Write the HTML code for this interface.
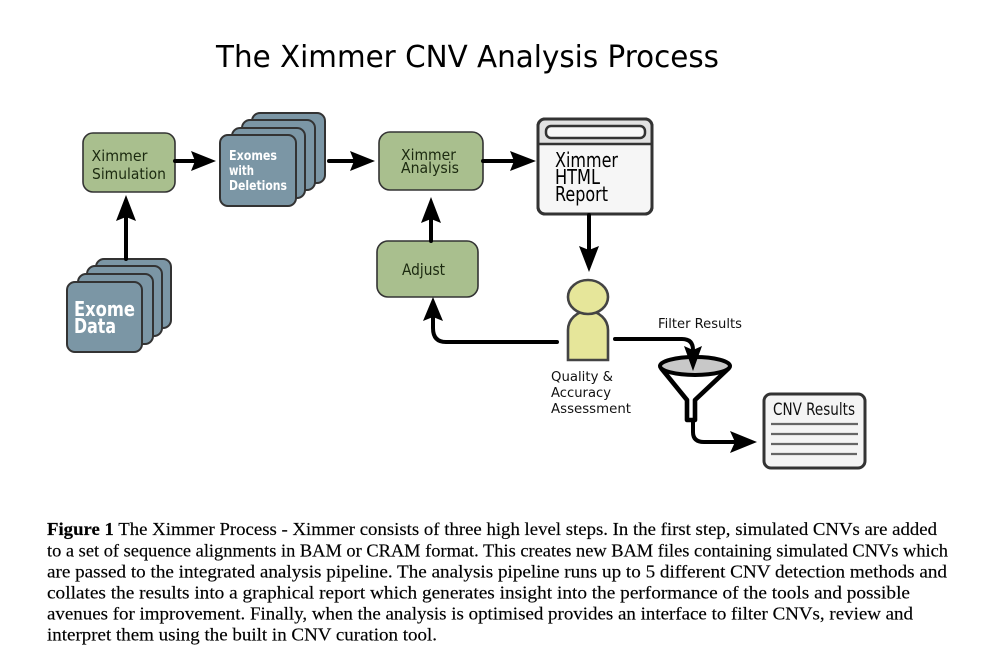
<!DOCTYPE html>
<html>
<head>
<meta charset="utf-8">
<title>The Ximmer CNV Analysis Process</title>
<style>
html,body{margin:0;padding:0;background:#fff;}
svg{display:block;}
.d{font-family:"DejaVu Sans",sans-serif;}
.c{font-family:"Liberation Serif",serif;font-size:17.5px;fill:#000;stroke:#000;stroke-width:.15px;}
</style>
</head>
<body>
<svg width="983" height="672" viewBox="0 0 983 672" xmlns="http://www.w3.org/2000/svg">
<rect width="983" height="672" fill="#fff"/>

<text class="d" x="216" y="67" font-size="30" fill="#000" textLength="503" lengthAdjust="spacingAndGlyphs">The Ximmer CNV Analysis Process</text>

<!-- Exomes stack -->
<g fill="#7b96a5" stroke="#333" stroke-width="2">
<rect x="252" y="113" width="73" height="70" rx="8"/>
<rect x="242" y="120" width="73" height="70" rx="8"/>
<rect x="232" y="128" width="73" height="70" rx="8"/>
<rect x="220" y="135" width="76" height="71" rx="8"/>
</g>
<!-- Exome Data stack -->
<g fill="#7b96a5" stroke="#333" stroke-width="2">
<rect x="96" y="259" width="75" height="69" rx="8"/>
<rect x="87" y="266" width="75" height="70" rx="8"/>
<rect x="78" y="274" width="75" height="70" rx="8"/>
<rect x="67" y="282" width="75" height="70" rx="8"/>
</g>

<!-- Green boxes -->
<g fill="#a9bf8e" stroke="#333" stroke-width="1.6">
<rect x="83" y="133" width="92" height="59" rx="10"/>
<rect x="379" y="132" width="104" height="58" rx="11"/>
<rect x="377" y="241" width="101" height="56" rx="11"/>
</g>

<!-- Report window -->
<rect x="538" y="119" width="114" height="95" rx="7" fill="#f6f6f6" stroke="#333" stroke-width="3"/>
<path d="M539 144V125a6 6 0 0 1 6-6H645a6 6 0 0 1 6 6V144Z" fill="#e2e2e2"/>
<rect x="538" y="119" width="114" height="95" rx="7" fill="none" stroke="#333" stroke-width="3"/>
<line x1="538" y1="144" x2="652" y2="144" stroke="#333" stroke-width="2.5"/>
<rect x="546" y="126" width="99" height="12" rx="5" fill="#f8f8f8" stroke="#333" stroke-width="2.5"/>

<!-- Person -->
<path d="M568 360V330a20 19 0 0 1 40 0V360Z" fill="#e6e69a" stroke="#444" stroke-width="2.6"/>
<ellipse cx="588" cy="297" rx="20" ry="17" fill="#e6e69a" stroke="#444" stroke-width="2.6"/>

<!-- Connectors -->
<g fill="none" stroke="#000" stroke-width="4" stroke-linecap="round">
<line x1="175" y1="161" x2="196" y2="161"/>
<line x1="126" y1="259" x2="126" y2="216"/>
<line x1="329" y1="161" x2="354" y2="161"/>
<line x1="483" y1="161" x2="514" y2="161"/>
<line x1="589" y1="215" x2="589" y2="250"/>
<line x1="431" y1="241" x2="431" y2="219"/>
<path d="M557 342H446Q433 342 433 328V317"/>
<path d="M615 339H682Q693 339 693 350V350"/>
<path d="M693 422V432Q693 442 704 442H734"/>
</g>
<g fill="#000">
<path d="M216 161L191 151L195 161L191 171Z"/>
<path d="M126 195L116 221L126 217L136 221Z"/>
<path d="M375 161L350 151L354 161L350 171Z"/>
<path d="M536 161L510 151L514 161L510 171Z"/>
<path d="M589 272L579 246L589 250L599 246Z"/>
<path d="M431 197L421 223L431 219L441 223Z"/>
<path d="M433 297L423 321L433 317L443 321Z"/>
<path d="M757 442L730 431L735 442L730 453Z"/>
</g>

<!-- Funnel -->
<path d="M661 368L687 400V420H695V400L729 368" fill="#fff" stroke="#000" stroke-width="4.6" stroke-linejoin="round"/>
<ellipse cx="695" cy="366" rx="35" ry="9" fill="#c8c8c8" stroke="#000" stroke-width="4"/>
<path d="M693 371L684 346L693 350L702 346Z" fill="#000"/>

<!-- CNV results -->
<rect x="764" y="394" width="101" height="74" rx="7" fill="#f4f4f4" stroke="#333" stroke-width="3"/>
<g stroke="#666" stroke-width="2.2">
<line x1="771" y1="424" x2="858" y2="424"/>
<line x1="771" y1="434" x2="858" y2="434"/>
<line x1="771" y1="444" x2="858" y2="444"/>
<line x1="771" y1="454" x2="857" y2="454"/>
</g>

<!-- Labels -->
<g class="d" fill="#1c2a10" font-size="15.5">
<text x="91.5" y="161" textLength="56" lengthAdjust="spacingAndGlyphs">Ximmer</text>
<text x="92" y="179" textLength="74" lengthAdjust="spacingAndGlyphs">Simulation</text>
<text x="401" y="160" textLength="55" lengthAdjust="spacingAndGlyphs">Ximmer</text>
<text x="401" y="173" textLength="58" lengthAdjust="spacingAndGlyphs">Analysis</text>
<text x="402" y="275" font-size="16" textLength="43" lengthAdjust="spacingAndGlyphs">Adjust</text>
</g>
<g class="d" fill="#fff" font-weight="bold" font-size="13.5">
<text x="229" y="160" textLength="48" lengthAdjust="spacingAndGlyphs">Exomes</text>
<text x="229" y="175" textLength="25" lengthAdjust="spacingAndGlyphs">with</text>
<text x="229" y="190" textLength="58" lengthAdjust="spacingAndGlyphs">Deletions</text>
</g>
<g class="d" fill="#fff" font-weight="bold" font-size="20">
<text x="74" y="316" textLength="61" lengthAdjust="spacingAndGlyphs">Exome</text>
<text x="74" y="333" textLength="42" lengthAdjust="spacingAndGlyphs">Data</text>
</g>
<g class="d" fill="#000" font-size="20">
<text x="555" y="167" textLength="63" lengthAdjust="spacingAndGlyphs">Ximmer</text>
<text x="555" y="184" textLength="45" lengthAdjust="spacingAndGlyphs">HTML</text>
<text x="555" y="201" textLength="53" lengthAdjust="spacingAndGlyphs">Report</text>
</g>
<g class="d" fill="#111" font-size="13.5">
<text x="658" y="328" textLength="84" lengthAdjust="spacingAndGlyphs">Filter Results</text>
<text x="551" y="381" textLength="62" lengthAdjust="spacingAndGlyphs">Quality &amp;</text>
<text x="551" y="397" textLength="60" lengthAdjust="spacingAndGlyphs">Accuracy</text>
<text x="551" y="413" textLength="80" lengthAdjust="spacingAndGlyphs">Assessment</text>
</g>
<text class="d" x="773" y="415" font-size="17" fill="#111" textLength="82" lengthAdjust="spacingAndGlyphs">CNV Results</text>

<!-- Caption -->
<text class="c" x="47" y="535" textLength="890" lengthAdjust="spacingAndGlyphs"><tspan font-weight="bold">Figure 1</tspan> The Ximmer Process - Ximmer consists of three high level steps. In the first step, simulated CNVs are added</text>
<text class="c" x="47" y="556.5" textLength="901" lengthAdjust="spacingAndGlyphs">to a set of sequence alignments in BAM or CRAM format. This creates new BAM files containing simulated CNVs which</text>
<text class="c" x="47" y="577.5" textLength="900" lengthAdjust="spacingAndGlyphs">are passed to the integrated analysis pipeline. The analysis pipeline runs up to 5 different CNV detection methods and</text>
<text class="c" x="47" y="598.5" textLength="863" lengthAdjust="spacingAndGlyphs">collates the results into a graphical report which generates insight into the performance of the tools and possible</text>
<text class="c" x="47" y="619.5" textLength="866" lengthAdjust="spacingAndGlyphs">avenues for improvement. Finally, when the analysis is optimised provides an interface to filter CNVs, review and</text>
<text class="c" x="47" y="640.5" textLength="390" lengthAdjust="spacingAndGlyphs">interpret them using the built in CNV curation tool.</text>
</svg>
</body>
</html>
